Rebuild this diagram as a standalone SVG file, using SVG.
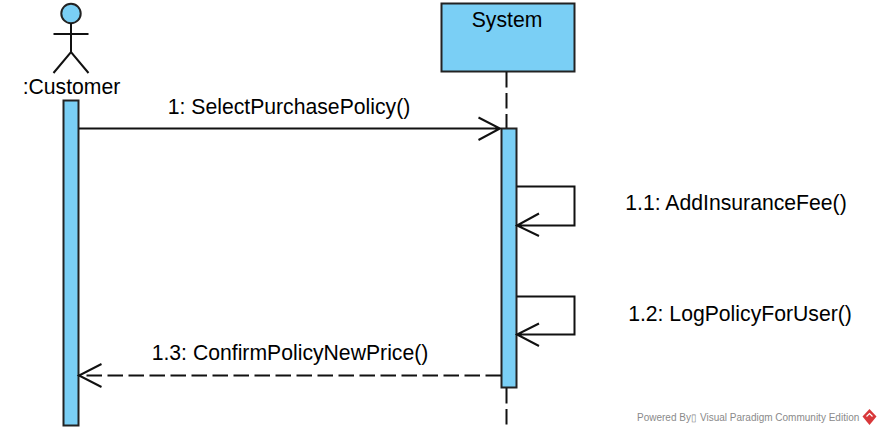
<svg xmlns="http://www.w3.org/2000/svg" width="881" height="434" viewBox="0 0 881 434">
<style>
text{font-family:"Liberation Sans",Arial,sans-serif;font-size:21.200px;fill:#000}
.s{fill:none;stroke:#111;stroke-width:2}
.f{fill:#7acff5;stroke:#222;stroke-width:2}
.d{stroke-dasharray:15.500 5.500}
</style>
<rect width="881" height="434" fill="#fff"/>
<g id="customer">
<circle class="f" cx="71" cy="13.500" r="9.700"/>
<path class="s" d="M71 23V52M53.500 34H88.500M53.500 73L71 52L88.500 73"/>
<text x="71.500" y="94" text-anchor="middle">:Customer</text>
</g>
<g id="system">
<rect class="f" x="441.500" y="3.500" width="133" height="68"/>
<text x="507" y="27" text-anchor="middle">System</text>
</g>
<g id="lifelines">
<path class="s d" d="M506.500 72V128"/>
<path class="s d" d="M506.500 388V426"/>
</g>
<g id="activation-customer"><rect class="f" x="63.500" y="100.500" width="15" height="325"/></g>
<g id="activation-system"><rect class="f" x="501.500" y="128.500" width="15" height="259"/></g>
<g id="connectors">
<path class="s" d="M79 128.500H500M478.500 117.500L500 128.500L478.500 140"/>
<path class="s" d="M517 186.500H574.500V225.500H517M539 213.500L517 225.500L539 236"/>
<path class="s" d="M517 296.500H574.500V334.500H517M539 323.500L517 334.500L539 346"/>
<path class="s d" d="M501 375.500H79"/>
<path class="s" d="M101.500 364L79 375.500L101.500 387"/>
</g>
<g id="labels">
<text x="289" y="114" text-anchor="middle">1: SelectPurchasePolicy()</text>
<text x="736" y="210" text-anchor="middle">1.1: AddInsuranceFee()</text>
<text x="740" y="321" text-anchor="middle">1.2: LogPolicyForUser()</text>
<text x="290" y="360" text-anchor="middle">1.3: ConfirmPolicyNewPrice()</text>
</g>
<g id="watermark">
<text x="637" y="421" style="font-size:10px;fill:#8a8a8a">Powered By▯<tspan dx="3">Visual Paradigm Community Edition</tspan></text>
<path d="M869.500 409L876.500 416.500L869.500 425L862.500 416.500Z" fill="#d8383a"/>
<path d="M866.500 416.500L869.500 413.500L872.500 416.500" fill="none" stroke="#fff" stroke-width="1.200"/>
</g>
</svg>
